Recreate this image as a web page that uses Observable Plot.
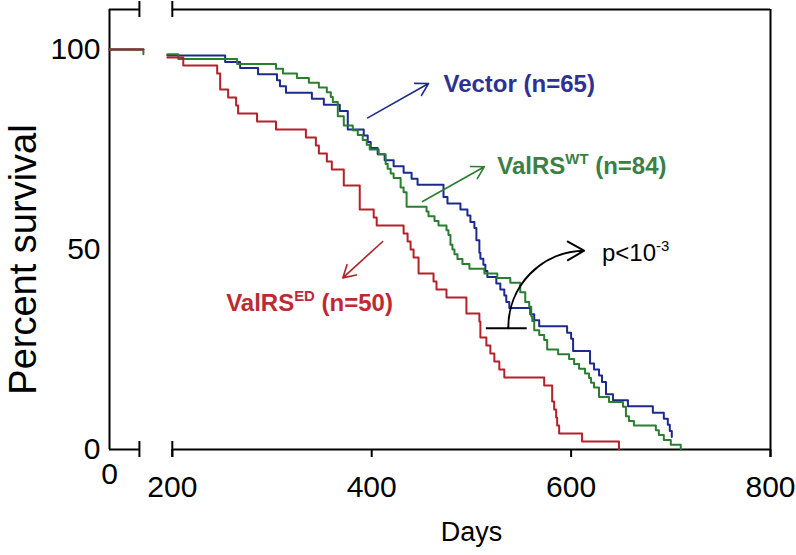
<!DOCTYPE html>
<html><head><meta charset="utf-8">
<script src="https://cdn.jsdelivr.net/npm/d3@7"></script>
<script src="https://cdn.jsdelivr.net/npm/@observablehq/plot@0.6"></script>
<style>
body{margin:0;background:#fff;}
#chart{width:796px;height:555px;}
</style>
</head><body><div id="chart"></div>
<script>
// ---- data ----
const leftDays = [0, 34];
const leftPct = [100, 100];
const wtLeftDrop = 98.8;

const vectorDays = [195,253,268,286,305,308,314,340,352,368,376,392,396,399,406,413,422,432,440,446,472,476,489,496,499,503,505,508,509,512,514,516,525,529,533,535,538,559,563,568,596,600,602,619,623,628,631,635,642,657,682,693,697,699,701];
const vectorPct  = [98.5,96.9,95.4,93.8,92.3,90.8,89.2,87.7,86.2,84.6,80.0,78.5,76.9,75.4,73.8,72.3,70.8,69.2,67.7,66.2,63.1,61.5,60.0,58.5,56.9,55.4,52.3,49.2,47.7,46.2,44.6,43.1,41.5,40.0,38.5,36.9,35.4,33.8,32.3,30.8,29.2,27.7,24.6,21.5,20.0,18.5,16.9,13.8,12.3,10.8,9.2,7.7,6.2,4.6,3.1];

const wtDays = [195,206,265,304,311,325,337,347,355,359,361,366,372,381,386,391,395,398,407,414,416,419,422,429,432,435,455,457,463,467,475,477,479,481,483,486,491,498,513,526,539,549,554,558,560,561,563,568,573,576,587,598,603,608,614,618,620,623,628,638,652,655,658,663,685,688,693,700,710];
const wtPct  = [98.8,97.6,96.4,95.2,94.0,92.9,91.7,90.5,89.3,88.1,86.9,83.3,81.0,79.8,78.6,77.4,76.2,75.0,73.8,71.4,70.2,69.0,67.9,65.5,64.3,60.7,59.5,58.3,57.1,56.0,54.8,53.6,51.2,50.0,48.8,47.6,46.4,45.2,44.0,42.9,41.7,39.3,36.9,35.7,33.3,32.1,29.8,28.6,27.4,25.0,23.8,22.6,21.4,20.2,19.0,17.9,16.7,15.5,13.1,11.9,10.7,8.3,7.1,6.0,4.8,3.6,2.4,1.2,0];

const edDays = [195,211,245,248,256,264,266,285,304,334,344,347,355,360,372,388,402,405,432,436,439,442,447,462,465,475,495,508,509,515,519,523,528,533,573,581,583,585,586,588,611,648];
const edPct  = [98,96,94,90,88,86,84,82,80,78,76,74,72,70,66,60,58,56,54,52,50,48,44,42,40,38,34,32,28,26,24,22,20,18,16,12,10,8,6,4,2,0];

const xTicks = [200, 400, 600, 800];
const xTickLeft = [0];
const yTicks = [0, 50, 100];
const xTitle = "Days";
const yTitle = "Percent survival";

const seriesLabels = ["Vector (n=65)", "ValRS^{WT} (n=84)", "ValRS^{ED} (n=50)"];
const labelDay  = [472, 526, 254];
const labelPct  = [91.4, 70.8, 36.6];
const pText = "p<10^{-3}";
const pTextDay = 631, pTextPct = 49.1;

const arrowFrom = [[396, 82.9], [451, 62.0], [411, 52.0]];
const arrowTo   = [[457, 91.5], [513, 70.7], [371, 42.9]];
const pBar = {x1: 515, x2: 556, y: 30.3};
const pArrow = {x1: 537, y1: 30.3, x2: 613, y2: 49.7};

const blue = "#1c2a8e", green = "#2b7d2f", red = "#b3212b";
const blueText = "#2e3192", greenText = "#3b7f45", redText = "#bd2a33";

// broken axis: the early segment (days 0..34) is drawn shifted right
const breakShift = 137;   // days added to the early segment
const leftEnd = 30;       // break mark of the early segment
const rightStart = 200;   // start of the main axis segment

// ---- build rows ----
function rows(days, pct, seg) { return days.map((d, i) => ({day: d, pct: pct[i], seg})); }
const vectorRows = rows(leftDays, leftPct, "L").concat(rows(vectorDays, vectorPct, "R"));
const wtRows = rows(leftDays.concat([leftDays[1]]), leftPct.concat([wtLeftDrop]), "L").concat(rows(wtDays, wtPct, "R"));
const edRows = rows(leftDays, leftPct, "L").concat(rows(edDays, edPct, "R"));
const xpos = d => d.seg === "L" ? d.day + breakShift : d.day;

const labels = seriesLabels.map((t, i) => ({t, day: labelDay[i], pct: labelPct[i], i}));
const arrows = arrowFrom.map((f, i) => ({x1: f[0], y1: f[1], x2: arrowTo[i][0], y2: arrowTo[i][1], i}));
const labelColors = [blueText, greenText, redText];
const arrowColors = [blue, green, red];

const font = "'Liberation Sans', Arial, Helvetica, sans-serif";
const x0 = breakShift, xBreak = leftEnd + breakShift;

const chart = Plot.plot({
  width: 796, height: 555,
  marginLeft: 109, marginRight: 26, marginTop: 9, marginBottom: 106,
  style: {fontFamily: font, background: "#fff", color: "#000"},
  x: {domain: [x0, 800]},
  y: {domain: [0, 110]},
  marks: [
    // frame with axis break
    Plot.ruleY([0, 110], {x1: x0, x2: xBreak, strokeWidth: 2, stroke: "#000"}),
    Plot.ruleY([0, 110], {x1: rightStart, x2: 800, strokeWidth: 2, stroke: "#000"}),
    Plot.ruleX([x0], {y1: 0, y2: 110, strokeWidth: 2, stroke: "#000"}),
    Plot.ruleX([800], {y1: -2, y2: 110, strokeWidth: 2, stroke: "#000"}),
    Plot.ruleX([xBreak, rightStart], {y1: -2, y2: 2, strokeWidth: 2, stroke: "#000"}),
    Plot.ruleX([xBreak, rightStart], {y1: 108, y2: 112, strokeWidth: 2, stroke: "#000"}),
    // axes
    Plot.axisX(xTicks, {tickSize: 8, tickPadding: 18, fontSize: 30, label: null, strokeWidth: 2}),
    Plot.axisX(xTickLeft.map(d => d + breakShift), {tickSize: 0, tickPadding: 13, fontSize: 30, label: null, tickFormat: d => String(d - breakShift)}),
    Plot.axisY(yTicks, {tickSize: 0, tickPadding: 9, fontSize: 30, label: null}),
    Plot.text([xTitle], {x: 500, frameAnchor: "bottom", dy: 91, fontSize: 27}),
    Plot.text([yTitle], {frameAnchor: "left", textAnchor: "middle", y: 47.5, dx: -86, rotate: -90, fontSize: 38}),
    // survival curves
    Plot.line(vectorRows, {x: xpos, y: "pct", z: "seg", curve: "step-after", stroke: blue, strokeWidth: 2}),
    Plot.line(wtRows, {x: xpos, y: "pct", z: "seg", curve: "step-after", stroke: green, strokeWidth: 2}),
    Plot.line(edRows, {x: xpos, y: "pct", z: "seg", curve: "step-after", stroke: red, strokeWidth: 2}),
    // annotations
    Plot.arrow(arrows, {x1: "x1", y1: "y1", x2: "x2", y2: "y2", stroke: d => arrowColors[d.i], strokeWidth: 1.6, headLength: 13, headAngle: 60}),
    Plot.ruleY([pBar.y], {x1: pBar.x1, x2: pBar.x2, stroke: "#000", strokeWidth: 2}),
    Plot.arrow([pArrow], {x1: "x1", y1: "y1", x2: "x2", y2: "y2", bend: 45, stroke: "#000", strokeWidth: 2, headLength: 14, headAngle: 60}),
    Plot.text(labels, {x: "day", y: "pct", text: "t", textAnchor: "start", fontSize: 24, fontWeight: "bold", fill: d => labelColors[d.i]}),
    Plot.text([pText], {x: pTextDay, y: pTextPct, textAnchor: "start", fontSize: 24, fill: "#000"})
  ]
});

// superscripts: turn "^{...}" into raised tspans
d3.select(chart).selectAll("text").each(function() {
  const t = this.textContent;
  if (!t.includes("^{")) return;
  const fs = parseFloat(getComputedStyle(this).fontSize) || 24;
  const parts = t.split(/\^\{([^}]*)\}/);
  const sel = d3.select(this);
  sel.text(null);
  const shift = fs * 0.42;
  parts.forEach((p, k) => {
    if (!p) return;
    const sp = sel.append("tspan").text(p);
    if (k % 2 === 1) sp.attr("font-size", fs * 0.62).attr("dy", -shift);
    else if (k > 0) sp.attr("dy", shift);
  });
});

document.getElementById("chart").appendChild(chart);
</script>
</body></html>
